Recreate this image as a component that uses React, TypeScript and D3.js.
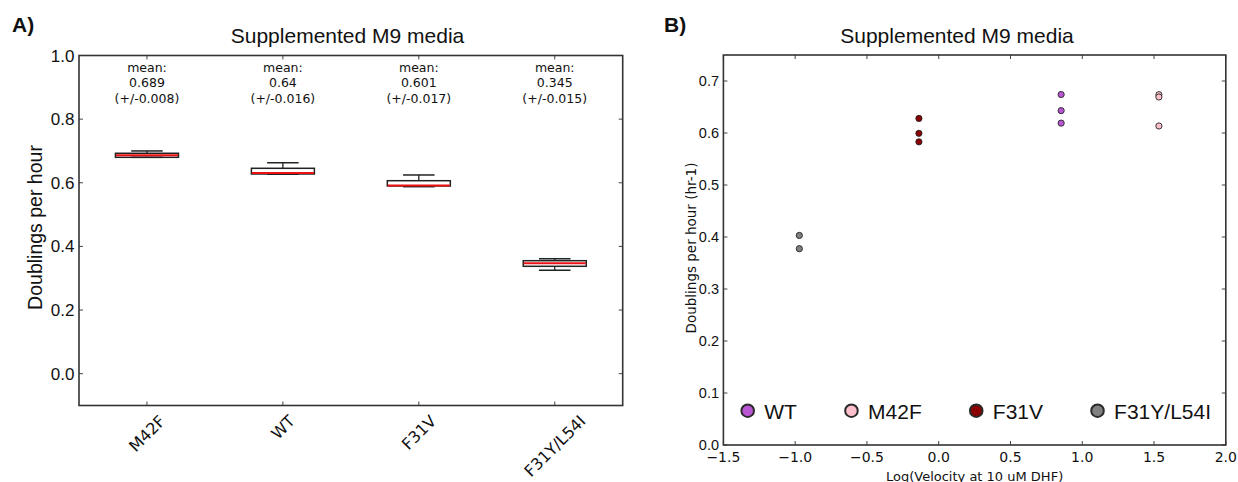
import React, { useMemo } from "react";
import * as d3 from "d3";

// ---------- Panel A data (box plot) ----------
const boxCategories = ["M42F", "WT", "F31V", "F31Y/L54I"];
const boxWhiskerLow = [0.68, 0.6267, 0.5877, 0.325];
const boxQ1 = [0.68, 0.6276, 0.59, 0.3375];
const boxMedian = [0.6864, 0.6307, 0.5915, 0.347];
const boxQ3 = [0.6927, 0.6455, 0.6065, 0.3551];
const boxWhiskerHigh = [0.7, 0.663, 0.6245, 0.3614];
const meanLabels = ["0.689", "0.64", "0.601", "0.345"];
const meanErrors = ["0.008", "0.016", "0.017", "0.015"];
const boxYTicks = [0.0, 0.2, 0.4, 0.6, 0.8, 1.0];

// ---------- Panel B data (scatter) ----------
const scatterNames = ["WT", "M42F", "F31V", "F31Y/L54I"];
const scatterColors = ["#BA55D3", "#FFC0CB", "#8B0000", "#808080"];
const scatterX = [0.853, 1.534, -0.138, -0.971];
const scatterY = [
  [0.674, 0.643, 0.619],
  [0.6737, 0.6692, 0.6135],
  [0.628, 0.5994, 0.583],
  [0.403, 0.3775],
];
const scatterXTicks = [-1.5, -1.0, -0.5, 0.0, 0.5, 1.0, 1.5, 2.0];
const scatterYTicks = [0.0, 0.1, 0.2, 0.3, 0.4, 0.5, 0.6, 0.7];

const SANS = "'Liberation Sans', Arial, Helvetica, sans-serif";
const DEJAVU = "'DejaVu Sans', sans-serif";

function measure(text: string, font: string, fallbackEm: number, size: number) {
  try {
    const c = document.createElement("canvas");
    const ctx = c.getContext("2d");
    if (ctx) {
      ctx.font = font;
      return ctx.measureText(text).width;
    }
  } catch (e) {}
  return text.length * fallbackEm * size;
}

const fmtMinus = (v: number) => {
  const s = v.toFixed(1);
  return s.startsWith("-") ? "\u2212" + s.slice(1) : s;
};

export default function App() {
  // Panel A geometry
  const aL = 79, aR = 622.7, aT = 55.5, aB = 405.5;
  const xA = d3.scaleBand<string>().domain(boxCategories).range([aL, aR]).padding(0);
  const yA = d3.scaleLinear().domain([-0.1, 1.0]).range([aB, aT]);
  const boxW = 63;
  const capW = 31.5;

  // Panel B geometry
  const bL = 723.4, bR = 1225.8, bT = 55, bB = 445;
  const xB = d3.scaleLinear().domain([-1.5, 2.0]).range([bL, bR]);
  const yB = d3.scaleLinear().domain([0, 0.75]).range([bB, bT]);

  const catFont = 16;
  const catWidths = useMemo(
    () => boxCategories.map((c) => measure(c, `${catFont}px ${DEJAVU}`, 0.62, catFont)),
    []
  );
  const legendWidths = useMemo(
    () => scatterNames.map((c) => measure(c, `21px ${SANS}`, 0.6, 21)),
    []
  );
  const legendXs: number[] = [];
  {
    let x = 747.7;
    scatterNames.forEach((_, i) => {
      legendXs.push(x);
      x += 16.6 + legendWidths[i] + 54.5;
    });
  }

  const spine = "#333";
  const tickC = "#444";
  const tl = 4;

  return (
    <svg
      width={1238}
      height={482}
      style={{ position: "absolute", left: 0, top: 0, background: "#fff" }}
      xmlns="http://www.w3.org/2000/svg"
    >
      <defs>
        <clipPath id="ylabBclip">
          <rect x={684.5} y={0} width={40} height={482} />
        </clipPath>
      </defs>
      <rect x={0} y={0} width={1238} height={482} fill="#fff" />

      {/* ================= Panel A ================= */}
      <text x={12} y={32} fontFamily={SANS} fontWeight="bold" fontSize={21} fill="#111">A)</text>
      <text x={347.5} y={43} textAnchor="middle" fontFamily={SANS} fontSize={21} fill="#111">
        Supplemented M9 media
      </text>

      {/* ticks */}
      {boxYTicks.map((t) => (
        <g key={"ayt" + t}>
          <line x1={aL} x2={aL + tl} y1={yA(t)} y2={yA(t)} stroke={tickC} strokeWidth={1} />
          <line x1={aR} x2={aR - tl} y1={yA(t)} y2={yA(t)} stroke={tickC} strokeWidth={1} />
          <text x={74.5} y={yA(t) + 6} textAnchor="end" fontFamily={SANS} fontSize={17} fill="#111">
            {t.toFixed(1)}
          </text>
        </g>
      ))}
      {boxCategories.map((c, i) => {
        const cx = (xA(c) as number) + xA.bandwidth() / 2;
        const w = catWidths[i];
        const yc = 414 + (w + 11.5) / (2 * Math.SQRT2);
        return (
          <g key={"axt" + c}>
            <line x1={cx} x2={cx} y1={aB} y2={aB - tl} stroke={tickC} strokeWidth={1} />
            <line x1={cx} x2={cx} y1={aT} y2={aT + tl} stroke={tickC} strokeWidth={1} />
            <text
              transform={`translate(${cx},${yc}) rotate(-45)`}
              textAnchor="middle"
              dy="0.36em"
              fontFamily={DEJAVU}
              fontSize={catFont}
              fill="#111"
            >
              {c}
            </text>
          </g>
        );
      })}

      {/* boxes */}
      {boxCategories.map((c, i) => {
        const cx = (xA(c) as number) + xA.bandwidth() / 2;
        return (
          <g key={"box" + c}>
            <line x1={cx} x2={cx} y1={yA(boxQ3[i])} y2={yA(boxWhiskerHigh[i])} stroke="#111" strokeWidth={1.2} />
            <line x1={cx} x2={cx} y1={yA(boxQ1[i])} y2={yA(boxWhiskerLow[i])} stroke="#111" strokeWidth={1.2} />
            <line x1={cx - capW / 2} x2={cx + capW / 2} y1={yA(boxWhiskerHigh[i])} y2={yA(boxWhiskerHigh[i])} stroke="#222" strokeWidth={1.5} />
            <line x1={cx - capW / 2} x2={cx + capW / 2} y1={yA(boxWhiskerLow[i])} y2={yA(boxWhiskerLow[i])} stroke="#222" strokeWidth={1.5} />
            <rect
              x={cx - boxW / 2}
              y={yA(boxQ3[i])}
              width={boxW}
              height={Math.max(0.5, yA(boxQ1[i]) - yA(boxQ3[i]))}
              fill="none"
              stroke="#222"
              strokeWidth={1.5}
            />
            <line x1={cx - boxW / 2 + 0.5} x2={cx + boxW / 2 - 0.5} y1={yA(boxMedian[i])} y2={yA(boxMedian[i])} stroke="#ee1111" strokeWidth={2} />
            <text textAnchor="middle" fontFamily={DEJAVU} fontSize={12.5} fill="#111">
              <tspan x={cx} y={72}>mean:</tspan>
              <tspan x={cx} y={87}>{meanLabels[i]}</tspan>
              <tspan x={cx} y={102.5}>{`(+/-${meanErrors[i]})`}</tspan>
            </text>
          </g>
        );
      })}

      <rect x={aL} y={aT} width={aR - aL} height={aB - aT} fill="none" stroke={spine} strokeWidth={1.6} />

      <text
        transform={`translate(41.5,227.5) rotate(-90)`}
        textAnchor="middle"
        fontFamily={SANS}
        fontSize={19.5}
        fill="#111"
      >
        Doublings per hour
      </text>

      {/* ================= Panel B ================= */}
      <text x={664} y={32} fontFamily={SANS} fontWeight="bold" fontSize={21} fill="#111">B)</text>
      <text x={957} y={43} textAnchor="middle" fontFamily={SANS} fontSize={21} fill="#111">
        Supplemented M9 media
      </text>

      {scatterYTicks.map((t) => (
        <g key={"byt" + t}>
          <line x1={bL} x2={bL + tl} y1={yB(t)} y2={yB(t)} stroke={tickC} strokeWidth={1} />
          <line x1={bR} x2={bR - tl} y1={yB(t)} y2={yB(t)} stroke={tickC} strokeWidth={1} />
          <text x={719} y={yB(t) + 5.2} textAnchor="end" fontFamily={SANS} fontSize={14.5} fill="#111">
            {t.toFixed(1)}
          </text>
        </g>
      ))}
      {scatterXTicks.map((t) => (
        <g key={"bxt" + t}>
          <line x1={xB(t)} x2={xB(t)} y1={bB} y2={bB - tl} stroke={tickC} strokeWidth={1} />
          <line x1={xB(t)} x2={xB(t)} y1={bT} y2={bT + tl} stroke={tickC} strokeWidth={1} />
          <text x={xB(t)} y={461.8} textAnchor="middle" fontFamily={DEJAVU} fontSize={14} fill="#111">
            {fmtMinus(t)}
          </text>
        </g>
      ))}

      {scatterNames.map((n, i) => (
        <g key={"pts" + n}>
          {scatterY[i].map((v, j) => (
            <circle
              key={j}
              cx={xB(scatterX[i])}
              cy={yB(v)}
              r={3.1}
              fill={scatterColors[i]}
              stroke="#222"
              strokeWidth={0.9}
            />
          ))}
        </g>
      ))}

      {/* legend */}
      {scatterNames.map((n, i) => (
        <g key={"leg" + n}>
          <circle cx={legendXs[i]} cy={410.7} r={6.3} fill={scatterColors[i]} stroke="#2a2a2a" strokeWidth={2} />
          <text x={legendXs[i] + 16.6} y={418.5} fontFamily={SANS} fontSize={21} fill="#111">
            {n}
          </text>
        </g>
      ))}

      <rect x={bL} y={bT} width={bR - bL} height={bB - bT} fill="none" stroke={spine} strokeWidth={1.6} />

      <g clipPath="url(#ylabBclip)">
        <text
          transform={`translate(696,248) rotate(-90)`}
          textAnchor="middle"
          fontFamily={DEJAVU}
          fontSize={13.5}
          fill="#111"
        >
          Doublings per hour (hr-1)
        </text>
      </g>
      <text x={974.6} y={481} textAnchor="middle" fontFamily={DEJAVU} fontSize={13} fill="#111">
        Log(Velocity at 10 uM DHF)
      </text>
    </svg>
  );
}
